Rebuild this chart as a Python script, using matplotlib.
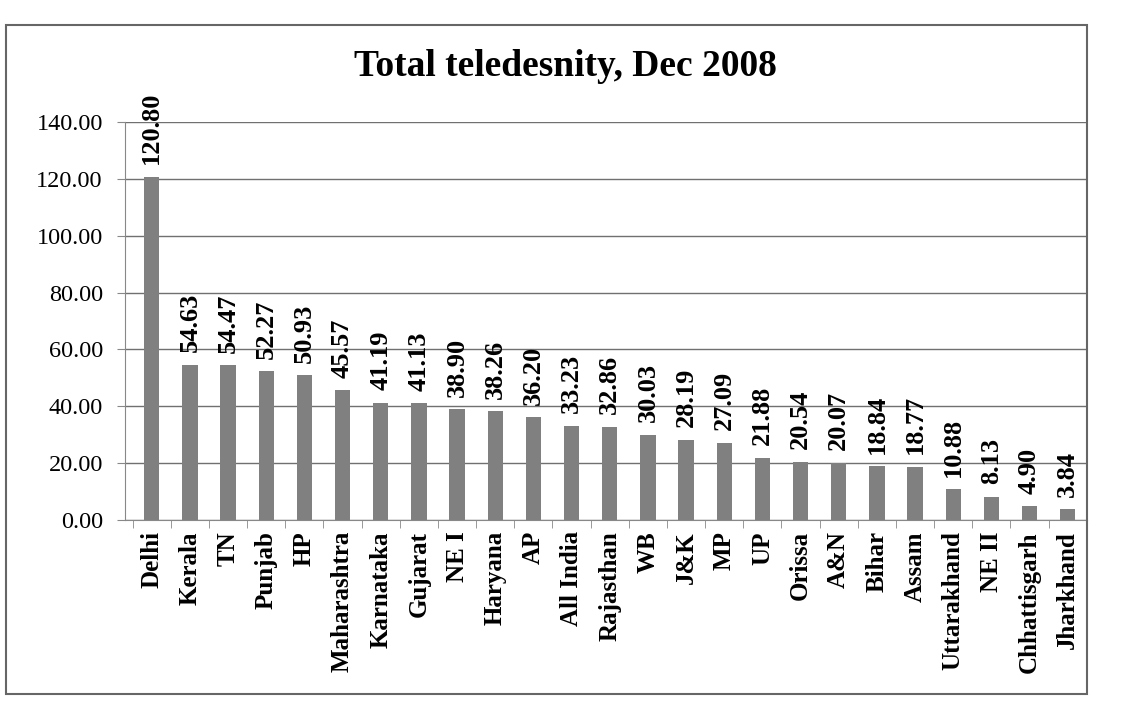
import matplotlib.pyplot as plt
from matplotlib.patches import Rectangle

states = ["Delhi", "Kerala", "TN", "Punjab", "HP", "Maharashtra", "Karnataka",
          "Gujarat", "NE I", "Haryana", "AP", "All India", "Rajasthan", "WB",
          "J&K", "MP", "UP", "Orissa", "A&N", "Bihar", "Assam", "Uttarakhand",
          "NE II", "Chhattisgarh", "Jharkhand"]
teledensity = [120.80, 54.63, 54.47, 52.27, 50.93, 45.57, 41.19, 41.13, 38.90,
               38.26, 36.20, 33.23, 32.86, 30.03, 28.19, 27.09, 21.88, 20.54,
               20.07, 18.84, 18.77, 10.88, 8.13, 4.90, 3.84]
yticks = [0, 20, 40, 60, 80, 100, 120, 140]

plt.rcParams['font.family'] = ['Liberation Serif', 'DejaVu Serif']

fig = plt.figure(figsize=(11.21, 7.05), dpi=100)
ax = fig.add_axes([0.1115, 0.2624, 0.858, 0.5646])

x = range(len(states))
bars = ax.bar(x, teledensity, width=0.4, color='#808080', zorder=3)
ax.bar_label(bars, labels=[f"{v:.2f}" for v in teledensity], rotation=90,
             padding=9, fontsize=19, fontweight='bold')

ax.set_xlim(-0.7, len(states) - 0.7)
ax.set_ylim(0, 140)
ax.set_yticks(yticks)
ax.set_yticklabels([f"{v:.2f}" for v in yticks], fontsize=17.5)
ax.set_xticks(list(x))
ax.set_xticklabels(states, rotation=90, fontsize=18, fontweight='bold')
ax.set_xticks([i - 0.5 for i in range(len(states) + 1)], minor=True)
ax.tick_params(axis='x', which='major', length=0, pad=8)
ax.tick_params(axis='x', which='minor', length=6, color='#888888')
ax.tick_params(axis='y', length=6, color='#888888', pad=10)
ax.grid(axis='y', color='#707070', linewidth=1.0, zorder=0)

for s in ['top', 'right']:
    ax.spines[s].set_visible(False)
ax.spines['left'].set_color('#888888')
ax.spines['bottom'].set_color('#888888')

fig.text(0.504, 0.905, "Total teledesnity, Dec 2008", ha='center', va='center',
         fontsize=27, fontweight='bold')

fig.patches.append(Rectangle((0.005, 0.015), 0.965, 0.95, transform=fig.transFigure,
                             fill=False, edgecolor='#666666', linewidth=1.5))

fig.savefig("out.png", dpi=100)
